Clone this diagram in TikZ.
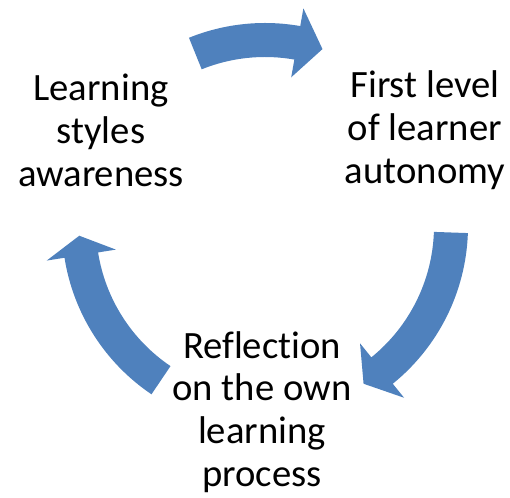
\documentclass[tikz,border=0pt]{standalone}
\usepackage{fontspec}
\setmainfont{Carlito}[Ligatures=CommonOff]

\definecolor{cycleblue}{RGB}{79,129,189}
\tikzset{
    stage/.style={align=center, font=\fontsize{22}{24.4}\selectfont},
    cyclearrow/.style={fill=cycleblue, draw=none},
}

\begin{document}
\begin{tikzpicture}[x=0.02cm,y=0.02cm]
    \useasboundingbox (0,0) rectangle (510,497);

    % the three stages of the cycle
    \node[stage] (styles) at (101,367) {Learning\\styles\\awareness};
    \node[stage] (autonomy) at (425,367) {First level\\of learner\\autonomy};
    \node[stage] (reflection) at (262,85) {Reflection\\on the own\\learning\\process};

    \begin{scope}[shift={(265,271)}]
        % from styles to autonomy
        \fill[cyclearrow] (112:203) arc[start angle=112, end angle=80, radius=203]
            -- (80:221) -- (72:186) -- (80:151) -- (80:169)
            arc[start angle=80, end angle=112, radius=169] -- cycle;
        % from autonomy to reflection
        \fill[cyclearrow] (-2:203) arc[start angle=-2, end angle=-51, radius=203]
            -- (-51:221) -- (-58:186) -- (-51:151) -- (-51:169)
            arc[start angle=-51, end angle=-2, radius=169] -- cycle;
        % from reflection back to styles
        \fill[cyclearrow] (236:203) arc[start angle=236, end angle=189, radius=203]
            -- (189:221) -- (183:186) -- (189:151) -- (189:169)
            arc[start angle=189, end angle=236, radius=169] -- cycle;
    \end{scope}
\end{tikzpicture}
\end{document}
